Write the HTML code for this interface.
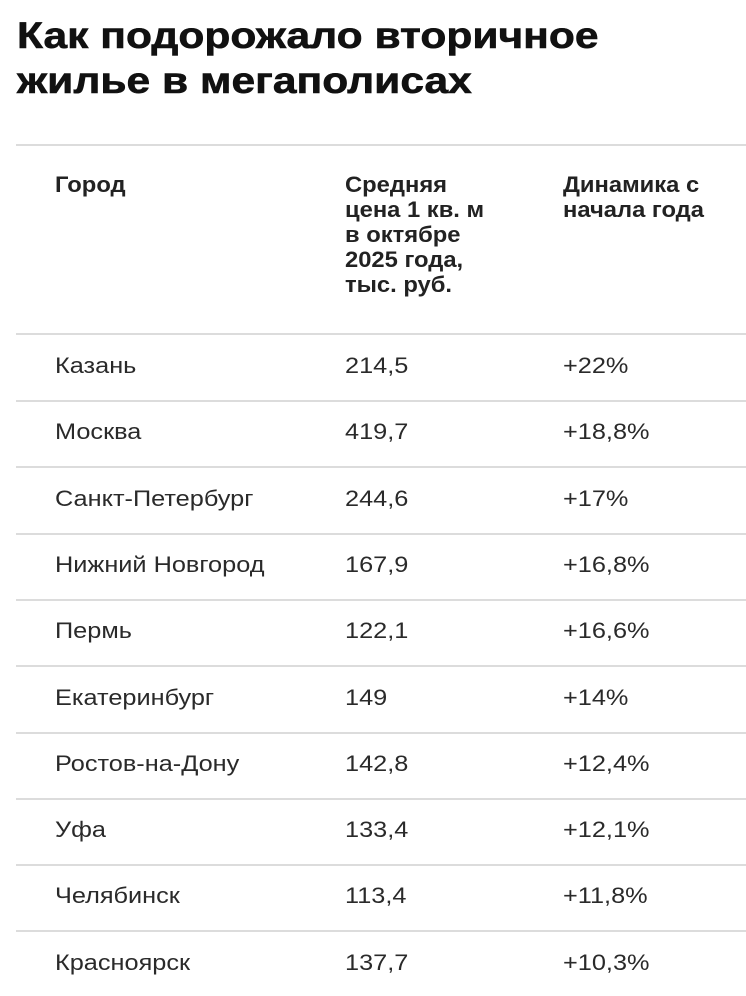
<!DOCTYPE html>
<html><head><meta charset="utf-8"><style>
body{margin:0;width:746px;height:996px;background:#fff;overflow:hidden;font-family:"Liberation Sans","DejaVu Sans",sans-serif;color:#1e1e1e;position:relative}
.t{position:absolute;left:17px;font-weight:bold;font-size:37px;line-height:40px;white-space:nowrap;color:#111;transform:scaleX(1.15);transform-origin:0 0;-webkit-text-stroke:0.6px #111}
.ln{position:absolute;left:16px;right:0;height:2px;background:#dcdcdc}
.h{position:absolute;font-weight:bold;font-size:22px;line-height:25px;color:#222;white-space:nowrap;transform:scaleX(1.08);transform-origin:0 0}
.c{position:absolute;font-size:22px;white-space:nowrap;color:#2a2a2a;transform:scaleX(1.15);transform-origin:0 0}
</style></head><body>
<div class="t" style="top:16px">Как подорожало вторичное</div>
<div class="t" style="top:61px">жилье в мегаполисах</div>
<div class="ln" style="top:144px"></div>
<div class="h" style="left:55px;top:172px">Город</div>
<div class="h" style="left:345px;top:172px">Средняя<br>цена 1 кв. м<br>в октябре<br>2025 года,<br>тыс. руб.</div>
<div class="h" style="left:563px;top:172px">Динамика с<br>начала года</div>
<div class="ln" style="top:333px"></div>
<div id="rows"></div>
<script>
var d=[["Казань","214,5","+22%"],["Москва","419,7","+18,8%"],["Санкт-Петербург","244,6","+17%"],["Нижний Новгород","167,9","+16,8%"],["Пермь","122,1","+16,6%"],["Екатеринбург","149","+14%"],["Ростов-на-Дону","142,8","+12,4%"],["Уфа","133,4","+12,1%"],["Челябинск","113,4","+11,8%"],["Красноярск","137,7","+10,3%"]];
var h="";
for(var i=0;i<d.length;i++){var y=366+i*66.3;var tp=y-13;
h+='<div class="c" style="left:55px;top:'+tp+'px">'+d[i][0]+'</div><div class="c" style="left:345px;top:'+tp+'px">'+d[i][1]+'</div><div class="c" style="left:563px;top:'+tp+'px">'+d[i][2]+'</div>';
if(i<d.length-1)h+='<div class="ln" style="top:'+(y+34)+'px"></div>';}
document.getElementById("rows").innerHTML=h;
</script>
</body></html>
